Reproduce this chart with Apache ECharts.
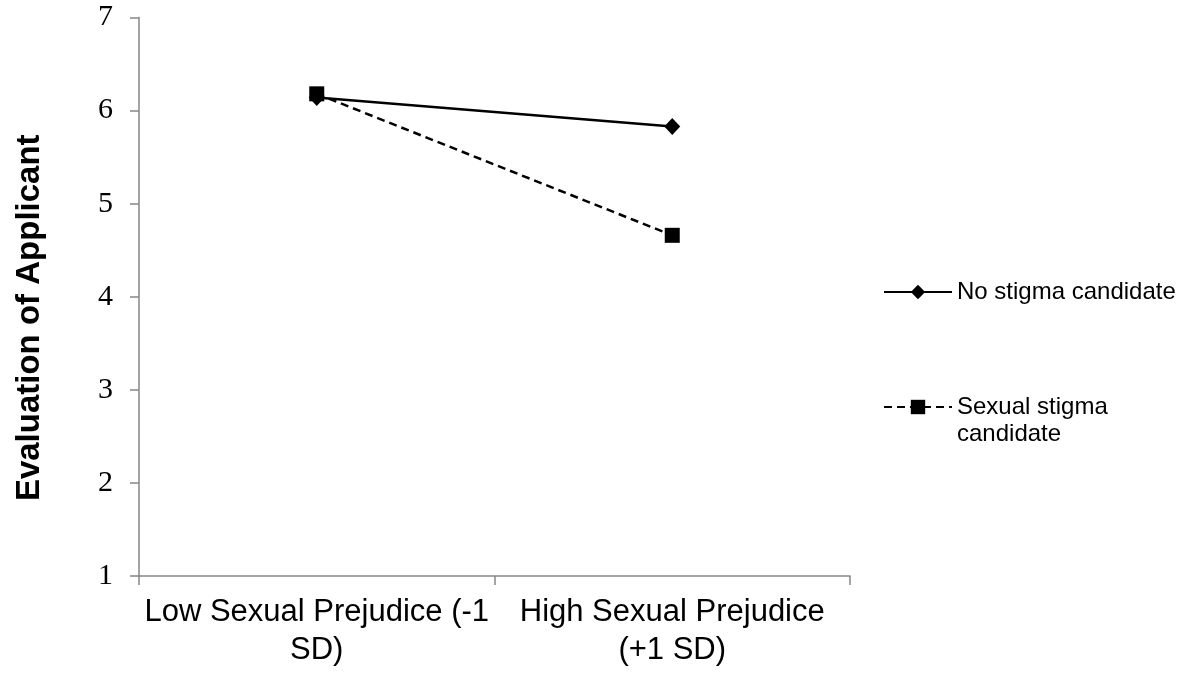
<!DOCTYPE html>
<html>
<head>
<meta charset="utf-8">
<title>Evaluation of Applicant</title>
<script src="https://cdn.jsdelivr.net/npm/echarts@6/dist/echarts.min.js"></script>
<style>
  html, body { margin: 0; padding: 0; background: #fff; }
  #main { width: 1181px; height: 673px; }
</style>
</head>
<body>
<div id="main"></div>
<script>
// 数据
var categories = ['Low Sexual Prejudice (-1\nSD)', 'High Sexual Prejudice\n(+1 SD)']
var noStigma = [6.14, 5.83]
var sexualStigma = [6.18, 4.66]
var seriesNames = ['No stigma candidate', 'Sexual stigma candidate']
var yTicks = { min: 1, max: 7, interval: 1 }

var sans = "'Liberation Sans', Arial, sans-serif"
var serif = "'Liberation Serif', 'Times New Roman', serif"
var axisGray = '#878787'

var myChart = echarts.init(document.getElementById('main'))
var option = {
  animation: false,
  backgroundColor: '#fff',
  grid: { left: 139, right: 331, top: 17.5, bottom: 97, outerBoundsMode: 'none' },
  legend: [
    {
      // 第一个图例
      data: [seriesNames[0]],
      left: 883,
      top: 278.5,
      padding: 0,
      itemWidth: 68,
      itemHeight: 18,
      textStyle: { fontFamily: sans, fontSize: 24, color: '#000', lineHeight: 27 }
    },
    {
      // 第二个图例：文字两行，图标对齐第一行（前面加一个空行让中线落在第一行）
      data: [seriesNames[1]],
      left: 883,
      top: 366.5,
      padding: 0,
      itemWidth: 68,
      itemHeight: 18,
      formatter: function (name) {
        return ' \nSexual stigma\ncandidate'
      },
      textStyle: { fontFamily: sans, fontSize: 24, color: '#000', lineHeight: 27 }
    }
  ],
  xAxis: {
    type: 'category',
    data: categories,
    boundaryGap: true,
    axisLine: { lineStyle: { color: axisGray, width: 1.5 } },
    axisTick: { show: true, length: 9, alignWithLabel: false, lineStyle: { color: axisGray, width: 1.5 } },
    axisLabel: {
      interval: 0,
      color: '#000',
      fontFamily: sans,
      fontSize: 31,
      lineHeight: 38,
      margin: 17
    },
    splitLine: { show: false }
  },
  yAxis: {
    type: 'value',
    min: yTicks.min,
    max: yTicks.max,
    interval: yTicks.interval,
    name: 'Evaluation of Applicant',
    nameLocation: 'middle',
    nameRotate: 90,
    nameGap: 93,
    nameTextStyle: {
      fontFamily: sans,
      fontSize: 33,
      fontWeight: 'bold',
      color: '#000',
      padding: [0, 42, 0, 0]
    },
    axisLine: { show: true, lineStyle: { color: axisGray, width: 1.5 } },
    axisTick: { show: true, length: 9, lineStyle: { color: axisGray, width: 1.5 } },
    axisLabel: { color: '#000', fontFamily: serif, fontSize: 30, margin: 26 },
    splitLine: { show: false }
  },
  series: [
    {
      name: seriesNames[0],
      type: 'line',
      data: noStigma,
      symbol: 'diamond',
      symbolSize: [16, 17],
      lineStyle: { color: '#000', width: 2.5, type: 'solid' },
      itemStyle: { color: '#000' }
    },
    {
      name: seriesNames[1],
      type: 'line',
      data: sexualStigma,
      symbol: 'rect',
      symbolSize: 15,
      lineStyle: { color: '#000', width: 2.5, type: [8, 5] },
      itemStyle: { color: '#000' }
    }
  ]
}
myChart.setOption(option, true)
window.addEventListener('resize', function () {
  myChart.resize()
})
</script>
</body>
</html>
